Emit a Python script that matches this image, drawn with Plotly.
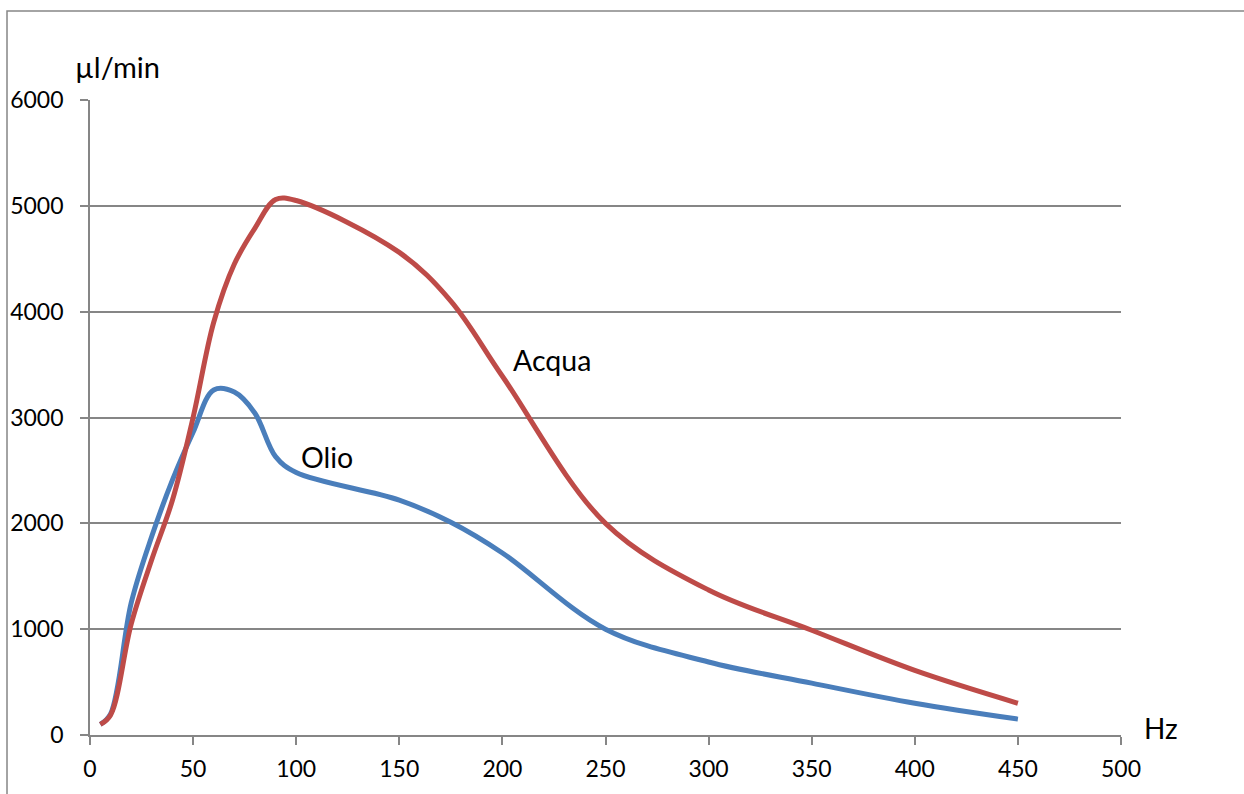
import plotly.graph_objects as go

# Flow rate (µl/min) against drive frequency (Hz) for two liquids
freq_olio = [5, 10, 20, 30, 40, 50, 60, 70, 80, 90, 100, 150, 175, 200, 250, 300, 350, 400, 450]
flow_olio = [100, 200, 1250, 1880, 2410, 2860, 3260, 3240, 3040, 2630, 2480, 2220, 2010, 1720, 1000, 690, 490, 300, 150]

freq_acqua = [5, 10, 20, 30, 40, 50, 60, 70, 80, 90, 100, 150, 175, 200, 250, 300, 350, 400, 450]
flow_acqua = [100, 190, 1050, 1660, 2220, 3000, 3900, 4450, 4790, 5060, 5050, 4560, 4100, 3390, 2000, 1370, 990, 610, 300]

x_ticks = [0, 50, 100, 150, 200, 250, 300, 350, 400, 450, 500]
y_ticks = [0, 1000, 2000, 3000, 4000, 5000, 6000]

BLUE = "#4A7EBB"
RED = "#BE4B48"
GRID = "#868686"
FONT = "Lato, 'Open Sans', sans-serif"

fig = go.Figure()
fig.add_trace(go.Scatter(x=freq_olio, y=flow_olio, mode="lines", name="Olio",
                         line=dict(color=BLUE, width=5, shape="spline", smoothing=1.0)))
fig.add_trace(go.Scatter(x=freq_acqua, y=flow_acqua, mode="lines", name="Acqua",
                         line=dict(color=RED, width=5, shape="spline", smoothing=1.0)))

fig.update_xaxes(range=[0, 500], tickvals=x_ticks, showgrid=False, zeroline=False,
                 showline=True, linecolor=GRID, linewidth=1.8, automargin=False,
                 ticks="outside", ticklen=8, tickcolor=GRID, tickwidth=1.8,
                 tickfont=dict(family=FONT, size=23, color="#000"), ticklabelstandoff=4)
fig.update_yaxes(range=[0, 6000], tickvals=y_ticks, showgrid=True, gridcolor=GRID, gridwidth=1.8,
                 zeroline=False, showline=True, linecolor=GRID, linewidth=1.8, automargin=False,
                 ticks="outside", ticklen=8, tickcolor=GRID, tickwidth=1.8,
                 tickfont=dict(family=FONT, size=23, color="#000"), ticklabelstandoff=12)

# outer chart frame (left and top edges visible)
fig.add_shape(type="rect", xref="paper", yref="paper",
              x0=-0.0805, x1=1.3, y0=-0.3, y1=1.1402,
              line=dict(color=GRID, width=1.5), fillcolor="rgba(0,0,0,0)", layer="below")

# axis titles and series labels
fig.add_annotation(xref="paper", yref="paper", x=-0.0165, y=1.052, text="µl/min",
                   showarrow=False, xanchor="left", yanchor="middle",
                   font=dict(family=FONT, size=29, color="#000"))
fig.add_annotation(xref="paper", yref="paper", x=1.0204, y=0.011, text="Hz",
                   showarrow=False, xanchor="left", yanchor="middle",
                   font=dict(family=FONT, size=28, color="#000"))
fig.add_annotation(x=204, y=3544, text="Acqua", showarrow=False, xanchor="left", yanchor="middle",
                   font=dict(family=FONT, size=28.5, color="#000"))
fig.add_annotation(x=101.5, y=2627, text="Olio", showarrow=False, xanchor="left", yanchor="middle",
                   font=dict(family=FONT, size=28.5, color="#000"))

fig.update_layout(width=1244, height=794, showlegend=False,
                  margin=dict(l=90, r=123, t=100, b=59),
                  paper_bgcolor="white", plot_bgcolor="white")

fig.write_html("out.html")
